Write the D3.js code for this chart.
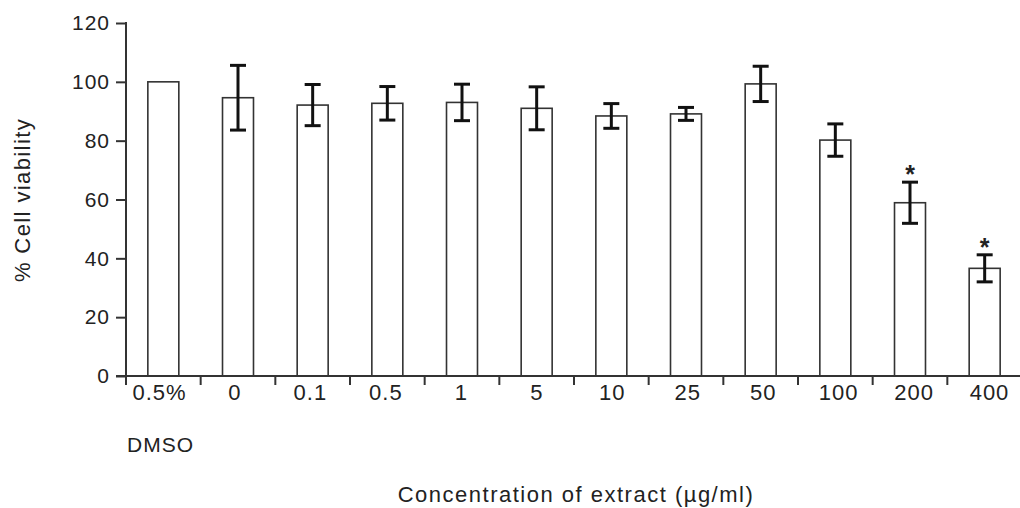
<!DOCTYPE html>
<html>
<head>
<meta charset="utf-8">
<script src="https://cdn.jsdelivr.net/npm/d3@7"></script>
<style>
  html, body { margin: 0; padding: 0; background: #fff; }
  svg { display: block; }
  text { font-family: "Liberation Sans", Arial, sans-serif; fill: #222; }
</style>
</head>
<body>
<svg id="chart" width="1020" height="508"></svg>
<script>
const categories = ["0.5%", "0", "0.1", "0.5", "1", "5", "10", "25", "50", "100", "200", "400"];
const viability = [100, 94.6, 92.1, 92.7, 93.0, 91.0, 88.4, 89.1, 99.3, 80.2, 58.9, 36.6];
const sdError = [0, 11, 7, 5.7, 6.2, 7.3, 4.2, 2.2, 6, 5.5, 7, 4.6];
const significant = [false, false, false, false, false, false, false, false, false, false, true, true];
const yTicks = [0, 20, 40, 60, 80, 100, 120];

const svg = d3.select("#chart");
const fontSize = 21;

const y = d3.scaleLinear().domain([0, 120]).range([376, 23]);
const x = d3.scaleBand().domain(categories).range([126, 1022])
  .paddingInner(0.585).paddingOuter(0.2925);
const xLabel = d3.scalePoint().domain(categories).range([159, 989]);

const data = categories.map((c, i) => ({ c, v: viability[i], e: sdError[i], s: significant[i] }));

// bars
svg.append("g").selectAll("rect").data(data).join("rect")
  .attr("x", d => x(d.c))
  .attr("y", d => y(d.v))
  .attr("width", x.bandwidth())
  .attr("height", d => y(0) - y(d.v))
  .attr("fill", "#fff")
  .attr("stroke", "#333")
  .attr("stroke-width", 1.6);

// error bars
const eb = svg.append("g").attr("stroke", "#111").attr("stroke-width", 3);
data.filter(d => d.e > 0).forEach(d => {
  const cx = x(d.c) + x.bandwidth() / 2;
  eb.append("line").attr("x1", cx).attr("x2", cx).attr("y1", y(d.v + d.e)).attr("y2", y(d.v - d.e));
  eb.append("line").attr("x1", cx - 8).attr("x2", cx + 8).attr("y1", y(d.v + d.e)).attr("y2", y(d.v + d.e));
  eb.append("line").attr("x1", cx - 8).attr("x2", cx + 8).attr("y1", y(d.v - d.e)).attr("y2", y(d.v - d.e));
});

// significance stars
svg.append("g").selectAll("text").data(data.filter(d => d.s)).join("text")
  .attr("x", d => x(d.c) + x.bandwidth() / 2)
  .attr("y", d => y(d.v + d.e) + 1)
  .attr("text-anchor", "middle")
  .style("font-size", "25px")
  .style("font-weight", "bold")
  .text("*");

// y axis
const yAxis = svg.append("g").attr("transform", "translate(126,0)")
  .call(d3.axisLeft(y).tickValues(yTicks).tickSize(10).tickSizeOuter(0).tickPadding(6));
yAxis.select(".domain").remove();
yAxis.selectAll(".tick line").attr("stroke", "#333").attr("stroke-width", 2);
yAxis.selectAll(".tick text")
  .style("font-size", fontSize + "px")
  .style("font-family", "'Liberation Sans', Arial, sans-serif")
  .style("letter-spacing", "1px")
  .attr("fill", "#222");
svg.append("line").attr("x1", 126).attr("x2", 126).attr("y1", y(120) - 1).attr("y2", 385)
  .attr("stroke", "#333").attr("stroke-width", 2);

// x axis line
svg.append("line").attr("x1", 116).attr("x2", 1020).attr("y1", y(0)).attr("y2", y(0))
  .attr("stroke", "#333").attr("stroke-width", 2);
// boundary ticks between categories
svg.append("g").selectAll("line").data(categories.slice(1)).join("line")
  .attr("x1", d => x(d) - x.step() * x.paddingInner() / 2)
  .attr("x2", d => x(d) - x.step() * x.paddingInner() / 2)
  .attr("y1", y(0)).attr("y2", y(0) + 9)
  .attr("stroke", "#333").attr("stroke-width", 2);

// x labels
const xAxis = svg.append("g").attr("transform", `translate(0,${y(0)})`)
  .call(d3.axisBottom(xLabel).tickSize(0).tickPadding(8));
xAxis.select(".domain").remove();
xAxis.selectAll(".tick text")
  .style("font-size", "22px")
  .style("font-family", "'Liberation Sans', Arial, sans-serif")
  .style("letter-spacing", "1px")
  .attr("fill", "#222");

svg.append("text").attr("x", 127).attr("y", 452)
  .style("font-size", fontSize + "px").style("letter-spacing", "1px").text("DMSO");

svg.append("text").attr("x", 576).attr("y", 502).attr("text-anchor", "middle")
  .style("font-size", "22px").style("letter-spacing", "1.5px")
  .text("Concentration of extract (µg/ml)");

svg.append("text").attr("transform", "translate(30,200) rotate(-90)")
  .attr("text-anchor", "middle")
  .style("font-size", "22px").style("letter-spacing", "1.4px")
  .text("% Cell viability");
</script>
</body>
</html>
